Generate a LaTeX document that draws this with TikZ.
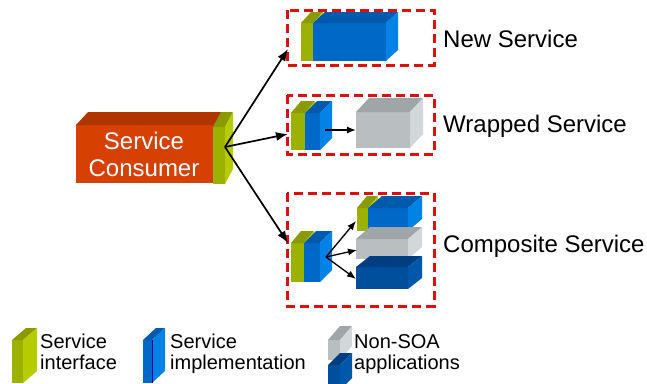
\documentclass[tikz,border=0pt]{standalone}
\usepackage{fontspec}
\setmainfont{Liberation Sans}
\usetikzlibrary{arrows.meta}

% face colours: front, top, side
\definecolor{orangefront}{HTML}{D64000}
\definecolor{orangetop}{HTML}{B03600}
\definecolor{orangeside}{HTML}{A83000}
\definecolor{greenfront}{HTML}{9DB100}
\definecolor{greentop}{HTML}{8A9A00}
\definecolor{greenside}{HTML}{B7CC00}
\definecolor{bluefront}{HTML}{0068C6}
\definecolor{bluetop}{HTML}{005AAC}
\definecolor{blueside}{HTML}{0082E6}
\definecolor{greyfront}{HTML}{B9BEC1}
\definecolor{greytop}{HTML}{A0A6A7}
\definecolor{greyside}{HTML}{D2D7DA}
\definecolor{navyfront}{HTML}{004F9C}
\definecolor{navytop}{HTML}{003E82}
\definecolor{navyside}{HTML}{0058AA}
\definecolor{groupred}{HTML}{DD1010}

% box: front corners (#1,#2) (#3,#4), depth #5 right and #6 up, colour set #7
\newcommand{\block}[7]{%
\fill[#7front] (#1,#2) rectangle (#3,#4);
\fill[#7top] (#1,#2) -- ++(#5,-#6) -- (#3+#5,#2-#6) -- (#3,#2) -- cycle;
\fill[#7side] (#3,#2) -- (#3+#5,#2-#6) -- (#3+#5,#4-#6) -- (#3,#4) -- cycle;
}

\tikzset{
  group/.style={draw=groupred, line width=3pt, dash pattern=on 9pt off 5pt},
  link/.style={line width=1.7pt, -{Latex[length=12pt,width=9pt]}},
  sublink/.style={line width=1.3pt, -{Latex[length=9pt,width=7pt]}},
  title/.style={font=\fontsize{24}{27}\selectfont, inner sep=0pt},
  legend/.style={font=\fontsize{20}{21}\selectfont, inner sep=0pt, align=left}
}

\begin{document}
\begin{tikzpicture}[x=1pt,y=-1pt]
\useasboundingbox (0,0) rectangle (647,383);

% consumer
\block{76}{125}{213}{183}{12}{13}{orange}
\block{213}{127}{225}{184}{8}{15}{green}
\node[title, white, align=center] (consumer) at (144,154) {Service\\Consumer};
\coordinate (port) at (225,147);

% new service
\draw[group] (287,10) rectangle (434,65);
\block{301}{23}{313}{61}{10}{11}{green}
\block{313}{23}{386}{61}{12}{11}{blue}
\node[title, anchor=base west] (newsvc) at (443,47) {New Service};

% wrapped service
\draw[group] (287,95) rectangle (434,154);
\block{291}{113}{305}{150}{10}{12}{green}
\block{305}{113}{320}{150}{12}{12}{blue}
\block{356}{112}{410}{148}{13}{14}{grey}
\node[title, anchor=base west] (wrapsvc) at (443,132) {Wrapped Service};
\coordinate (wrapout) at (325,130);
\coordinate (wrapin) at (356,130);
\draw[sublink] (wrapout) -- (wrapin);

% composite service
\draw[group] (287,193) rectangle (434,306);
\block{291}{243}{304}{282}{10}{12}{green}
\block{304}{243}{320}{282}{12}{12}{blue}
\block{357}{208}{368}{231}{10}{12}{green}
\block{368}{208}{408}{231}{14}{12}{blue}
\block{356}{239}{408}{259}{14}{12}{grey}
\block{356}{267}{408}{289}{14}{11}{navy}
\node[title, anchor=base west] (compsvc) at (443,252) {Composite Service};
\coordinate (compout) at (326,257);
\coordinate (compa) at (356,221);
\coordinate (compb) at (357,250);
\coordinate (compc) at (356,279);
\draw[sublink] (compout) -- (compa);
\draw[sublink] (compout) -- (compb);
\draw[sublink] (compout) -- (compc);

% consumer links
\coordinate (newin) at (288,49);
\coordinate (wrapent) at (288,134);
\coordinate (compent) at (288,243);
\draw[link] (port) -- (newin);
\draw[link] (port) -- (wrapent);
\draw[link] (port) -- (compent);

% legend
\block{12}{340}{23}{383}{14}{12}{green}
\node[legend, anchor=north west] (leginterface) at (40,334) {Service\\interface};
\block{143}{340}{152}{383}{13}{12}{blue}
\draw[blue!60!black, line width=0.8pt] (152,340) -- (152,383);
\node[legend, anchor=north west] (legimpl) at (170,334) {Service\\implementation};
\block{328}{340}{340}{360}{12}{14}{grey}
\block{328}{365}{340}{390}{12}{12}{navy}
\node[legend, anchor=north west] (legapps) at (354,334) {Non-SOA\\applications};
\end{tikzpicture}
\end{document}
